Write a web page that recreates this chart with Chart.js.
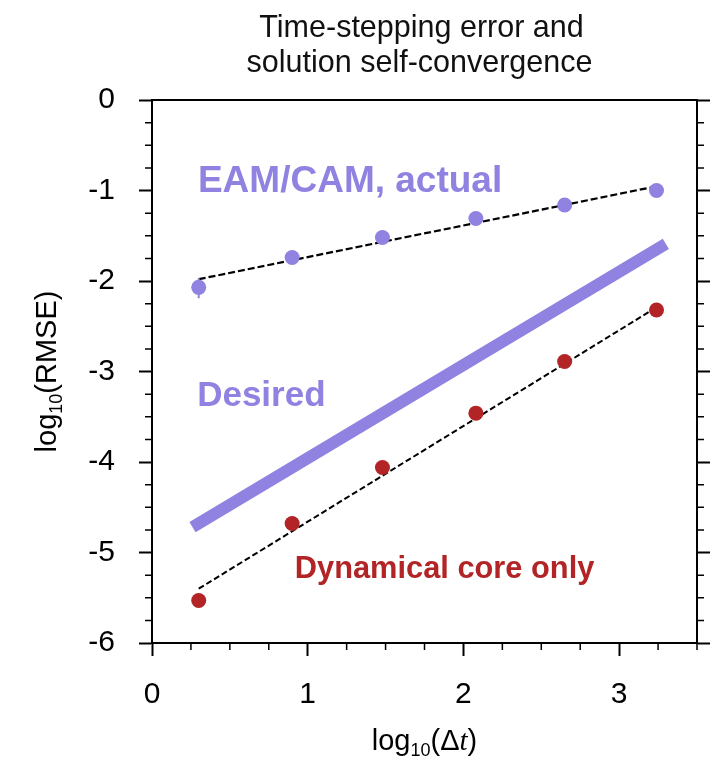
<!DOCTYPE html>
<html>
<head>
<meta charset="utf-8">
<title>Time-stepping error</title>
<script src="https://cdn.jsdelivr.net/npm/chart.js@4.4.1/dist/chart.umd.min.js"></script>
<style>
  html, body { margin: 0; padding: 0; background: #fff; }
  #chart { display: block; }
</style>
</head>
<body>
<canvas id="chart" width="723" height="762"></canvas>
<script>
// log10(dt) of each run
const dtLog = [0.30, 0.90, 1.48, 2.08, 2.65, 3.24];
// log10(RMSE) of each run
const eamErr = [-2.07, -1.74, -1.52, -1.31, -1.16, -1.00];
const dycoreErr = [-5.53, -4.68, -4.06, -3.46, -2.89, -2.32];

// fitted lines (end points)
const fitX = [0.30, 3.25];
const eamFit = [-1.98, -0.95];
const dycoreFit = [-5.40, -2.28];

// first order slope, the desired behaviour
const desiredX = [0.26, 3.30];
const desiredY = [-4.72, -1.59];

// small error bar on the first EAM point
const eamBarX = [0.30, 0.30];
const eamBarY = [-1.97, -2.19];

const xMajor = [0, 1, 2, 3];
const xTickLabels = ['0', '1', '2', '3'];
const yMajor = [0, -1, -2, -3, -4, -5, -6];
const yTickLabels = ['0', '-1', '-2', '-3', '-4', '-5', '-6'];

const PURPLE = 'rgb(143, 130, 224)';
const RED = 'rgb(178, 36, 38)';
const FONT = "'Liberation Sans', Arial, Helvetica, sans-serif";

function pts(xs, ys) {
    return xs.map((x, i) => ({ x: x, y: ys[i] }));
}

function isMajor(v) {
    return Math.abs(v - Math.round(v)) < 1e-9;
}

// minor ticks, frame top, title, axis titles and the text labels
const decorPlugin = {
    id: 'decor',
    afterDraw(chart) {
        const ctx = chart.ctx;
        const area = chart.chartArea;
        const sx = chart.scales.x;
        const sy = chart.scales.y;
        ctx.save();

        // minor ticks
        ctx.strokeStyle = '#000';
        ctx.lineWidth = 1.5;
        ctx.beginPath();
        for (const t of sx.ticks) {
            if (isMajor(t.value)) continue;
            const px = sx.getPixelForValue(t.value);
            ctx.moveTo(px, area.bottom);
            ctx.lineTo(px, area.bottom + 7);
        }
        for (const t of sy.ticks) {
            if (isMajor(t.value)) continue;
            const py = sy.getPixelForValue(t.value);
            ctx.moveTo(area.left, py);
            ctx.lineTo(area.left - 7, py);
            ctx.moveTo(area.right, py);
            ctx.lineTo(area.right + 7, py);
        }
        ctx.stroke();

        // top of the frame
        ctx.lineWidth = 2;
        ctx.beginPath();
        ctx.moveTo(area.left - 1, area.top);
        ctx.lineTo(area.right + 1, area.top);
        ctx.stroke();

        // title
        const cx = (area.left + area.right) / 2;
        ctx.fillStyle = '#111';
        ctx.textAlign = 'center';
        ctx.textBaseline = 'alphabetic';
        ctx.font = '30.5px ' + FONT;
        ctx.fillText('Time-stepping error and', cx - 3, 37);
        ctx.fillText('solution self-convergence', cx - 5, 72);

        // y axis title, rotated, with subscript
        ctx.save();
        ctx.translate(56, (area.top + area.bottom) / 2);
        ctx.rotate(-Math.PI / 2);
        drawPieces(ctx, [
            { t: 'log', f: '29px ' + FONT, dy: 0 },
            { t: '10', f: '18px ' + FONT, dy: 6 },
            { t: '(RMSE)', f: '29px ' + FONT, dy: 0 }
        ], 0, 0);
        ctx.restore();

        // x axis title
        drawPieces(ctx, [
            { t: 'log', f: '29px ' + FONT, dy: 0 },
            { t: '10', f: '18px ' + FONT, dy: 6 },
            { t: '(\u0394', f: '29px ' + FONT, dy: 0 },
            { t: 't', f: "italic 29px 'Liberation Serif', 'DejaVu Serif', serif", dy: 0 },
            { t: ')', f: '29px ' + FONT, dy: 0 }
        ], cx, 750);

        // labels in the plot
        ctx.textAlign = 'left';
        ctx.fillStyle = PURPLE;
        ctx.font = 'bold 37px ' + FONT;
        ctx.fillText('EAM/CAM, actual', sx.getPixelForValue(0.295), sy.getPixelForValue(-1.015));
        ctx.font = 'bold 35px ' + FONT;
        ctx.fillText('Desired', sx.getPixelForValue(0.29), sy.getPixelForValue(-3.38));
        ctx.fillStyle = RED;
        ctx.font = 'bold 30.8px ' + FONT;
        ctx.fillText('Dynamical core only', sx.getPixelForValue(0.917), sy.getPixelForValue(-5.28));

        ctx.restore();
    }
};

// draws text pieces in a row, centred on x
function drawPieces(ctx, pieces, x, y) {
    let total = 0;
    for (const p of pieces) {
        ctx.font = p.f;
        p.w = ctx.measureText(p.t).width;
        total += p.w;
    }
    let px = x - total / 2;
    ctx.textAlign = 'left';
    ctx.textBaseline = 'alphabetic';
    ctx.fillStyle = '#000';
    for (const p of pieces) {
        ctx.font = p.f;
        ctx.fillText(p.t, px, y + p.dy);
        px += p.w;
    }
}

const tickFont = { family: FONT, size: 30 };

const data = {
    datasets: [
        {
            label: 'EAM/CAM, actual',
            data: pts(dtLog, eamErr),
            backgroundColor: PURPLE,
            borderColor: PURPLE,
            pointRadius: 7.5,
            pointBorderWidth: 0,
            showLine: false
        },
        {
            label: 'Dynamical core only',
            data: pts(dtLog, dycoreErr),
            backgroundColor: RED,
            borderColor: RED,
            pointRadius: 7.5,
            pointBorderWidth: 0,
            showLine: false
        },
        {
            label: 'EAM error bar',
            data: pts(eamBarX, eamBarY),
            borderColor: PURPLE,
            borderWidth: 2,
            pointRadius: 0,
            showLine: true
        },
        {
            label: 'EAM fit',
            data: pts(fitX, eamFit),
            borderColor: '#000',
            borderWidth: 2.2,
            borderDash: [7, 3],
            pointRadius: 0,
            showLine: true
        },
        {
            label: 'Dycore fit',
            data: pts(fitX, dycoreFit),
            borderColor: '#000',
            borderWidth: 2,
            borderDash: [6, 3],
            pointRadius: 0,
            showLine: true
        },
        {
            label: 'Desired',
            data: pts(desiredX, desiredY),
            borderColor: PURPLE,
            borderWidth: 12,
            borderCapStyle: 'butt',
            pointRadius: 0,
            showLine: true
        }
    ]
};

const config = {
    type: 'scatter',
    data: data,
    plugins: [decorPlugin],
    options: {
        responsive: false,
        animation: false,
        layout: { padding: { top: 100, left: 0, right: 0, bottom: 0 } },
        plugins: {
            legend: { display: false },
            tooltip: { enabled: false },
            title: { display: false }
        },
        scales: {
            x: {
                type: 'linear',
                position: 'bottom',
                min: 0,
                max: 3.5,
                afterFit: function (scale) { scale.height = 119; },
                ticks: {
                    stepSize: 0.25,
                    autoSkip: false,
                    maxRotation: 0,
                    padding: 21,
                    color: '#000',
                    font: tickFont,
                    callback: function (v) {
                        const i = xMajor.findIndex(m => Math.abs(m - v) < 1e-9);
                        return i >= 0 ? xTickLabels[i] : '';
                    }
                },
                grid: {
                    drawOnChartArea: false,
                    drawTicks: true,
                    tickLength: 13,
                    tickWidth: 2,
                    tickColor: ctx => isMajor(ctx.tick.value) ? '#000' : 'rgba(0,0,0,0)'
                },
                border: { display: true, color: '#000', width: 2 }
            },
            y: {
                type: 'linear',
                position: 'left',
                min: -6,
                max: 0,
                afterFit: function (scale) { scale.width = 152; },
                ticks: {
                    stepSize: 0.25,
                    autoSkip: false,
                    padding: 24,
                    color: '#000',
                    font: tickFont,
                    callback: function (v) {
                        const i = yMajor.findIndex(m => Math.abs(m - v) < 1e-9);
                        return i >= 0 ? yTickLabels[i] : '';
                    }
                },
                grid: {
                    drawOnChartArea: false,
                    drawTicks: true,
                    tickLength: 13,
                    tickWidth: 2,
                    tickColor: ctx => isMajor(ctx.tick.value) ? '#000' : 'rgba(0,0,0,0)'
                },
                border: { display: true, color: '#000', width: 2 }
            },
            y2: {
                type: 'linear',
                position: 'right',
                min: -6,
                max: 0,
                afterFit: function (scale) { scale.width = 26; },
                ticks: {
                    stepSize: 0.25,
                    autoSkip: false,
                    padding: 0,
                    font: { family: FONT, size: 10 },
                    callback: function () { return ''; }
                },
                grid: {
                    drawOnChartArea: false,
                    drawTicks: true,
                    tickLength: 13,
                    tickWidth: 2,
                    tickColor: ctx => isMajor(ctx.tick.value) ? '#000' : 'rgba(0,0,0,0)'
                },
                border: { display: true, color: '#000', width: 2 }
            }
        }
    }
};

const myChart = new Chart(document.getElementById('chart'), config);
</script>
</body>
</html>
